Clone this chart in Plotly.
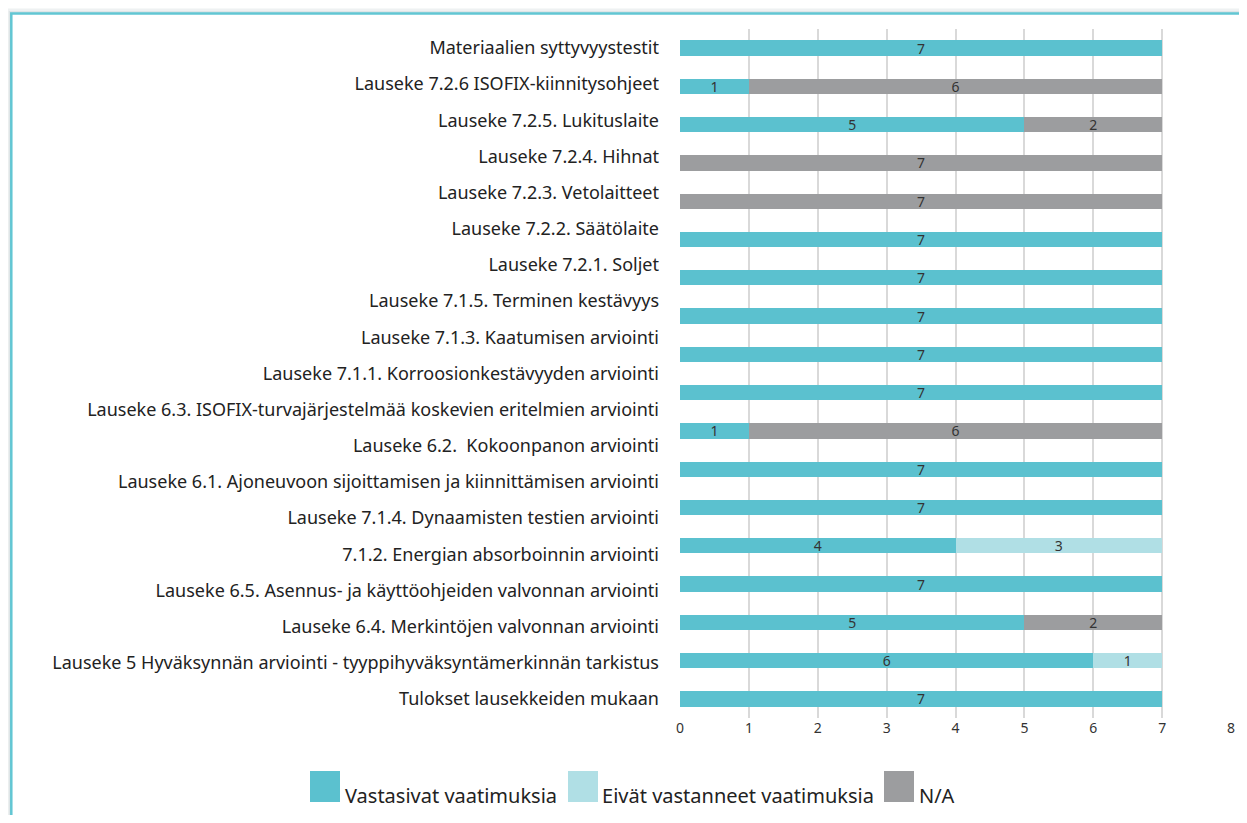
import plotly.graph_objects as go

# Axis labels (top to bottom), as printed on the left
labels = [
    "Materiaalien syttyvyystestit",
    "Lauseke 7.2.6 ISOFIX-kiinnitysohjeet",
    "Lauseke 7.2.5. Lukituslaite",
    "Lauseke 7.2.4. Hihnat",
    "Lauseke 7.2.3. Vetolaitteet",
    "Lauseke 7.2.2. Säätölaite",
    "Lauseke 7.2.1. Soljet",
    "Lauseke 7.1.5. Terminen kestävyys",
    "Lauseke 7.1.3. Kaatumisen arviointi",
    "Lauseke 7.1.1. Korroosionkestävyyden arviointi",
    "Lauseke 6.3. ISOFIX-turvajärjestelmää koskevien eritelmien arviointi",
    "Lauseke 6.2.  Kokoonpanon arviointi",
    "Lauseke 6.1. Ajoneuvoon sijoittamisen ja kiinnittämisen arviointi",
    "Lauseke 7.1.4. Dynaamisten testien arviointi",
    "7.1.2. Energian absorboinnin arviointi",
    "Lauseke 6.5. Asennus- ja käyttöohjeiden valvonnan arviointi",
    "Lauseke 6.4. Merkintöjen valvonnan arviointi",
    "Lauseke 5 Hyväksynnän arviointi - tyyppihyväksyntämerkinnän tarkistus",
    "Tulokset lausekkeiden mukaan",
]

# Bars (top to bottom) - the source chart has 18 bars
bar_categories = [
    "Materiaalien syttyvyystestit",
    "Lauseke 7.2.6 ISOFIX-kiinnitysohjeet",
    "Lauseke 7.2.5. Lukituslaite",
    "Lauseke 7.2.4. Hihnat",
    "Lauseke 7.2.3. Vetolaitteet",
    "Lauseke 7.2.2. Säätölaite",
    "Lauseke 7.2.1. Soljet",
    "Lauseke 7.1.5. Terminen kestävyys",
    "Lauseke 7.1.3. Kaatumisen arviointi",
    "Lauseke 7.1.1. Korroosionkestävyyden arviointi",
    "Lauseke 6.3. ISOFIX-turvajärjestelmää koskevien eritelmien arviointi",
    "Lauseke 6.2.  Kokoonpanon arviointi",
    "Lauseke 6.1. Ajoneuvoon sijoittamisen ja kiinnittämisen arviointi",
    "7.1.2. Energian absorboinnin arviointi",
    "Lauseke 6.5. Asennus- ja käyttöohjeiden valvonnan arviointi",
    "Lauseke 6.4. Merkintöjen valvonnan arviointi",
    "Lauseke 5 Hyväksynnän arviointi - tyyppihyväksyntämerkinnän tarkistus",
    "Tulokset lausekkeiden mukaan",
]
vastasivat = [7, 1, 5, 0, 0, 7, 7, 7, 7, 7, 1, 7, 7, 4, 7, 5, 6, 7]
eivat      = [0, 0, 0, 0, 0, 0, 0, 0, 0, 0, 0, 0, 0, 3, 0, 0, 1, 0]
na         = [0, 6, 2, 7, 7, 0, 0, 0, 0, 0, 6, 0, 0, 0, 0, 2, 0, 0]

series_names = ["Vastasivat vaatimuksia", "Eivät vastanneet vaatimuksia", "N/A"]
colors = ["#5bc1cf", "#b0dfe5", "#9c9d9f"]
x_ticks = [0, 1, 2, 3, 4, 5, 6, 7, 8]

FONT = "Noto Sans"
OFF = 8  # page body margin
W, H = 1247 - 2 * OFF, 823 - 2 * OFF
ML = 680 - OFF
MT = 29 - OFF
PLOT_R = 1231 - OFF
PLOT_B = 718 - OFF
MR = W - PLOT_R
MB = H - PLOT_B
PW, PH = W - ML - MR, H - MT - MB

fig = go.Figure()
for name, vals, col in zip(series_names, [vastasivat, eivat, na], colors):
    fig.add_trace(go.Bar(
        y=bar_categories, x=vals, orientation="h", name=name,
        marker=dict(color=col, line=dict(width=0)),
        text=[str(v) if v else "" for v in vals],
        textposition="inside", insidetextanchor="middle", textangle=0,
        constraintext="none",
        textfont=dict(family=FONT, size=14, color="#333333"),
        yaxis="y", showlegend=True,
    ))

# invisible trace to drive label axis
n = len(labels)
fig.add_trace(go.Scatter(x=[None] * n, y=list(range(n)), yaxis="y2",
                         mode="markers", showlegend=False, hoverinfo="skip"))

def px_x(p):
    return (p - OFF - ML) / PW

def px_y(p):
    return (MT + PH - (p - OFF)) / PH

fig.update_layout(
    width=W, height=H,
    margin=dict(l=ML, r=MR, t=MT, b=MB, autoexpand=False),
    barmode="stack", bargap=0.6,
    plot_bgcolor="white", paper_bgcolor="white",
    font=dict(family=FONT, color="#222222"),
    xaxis=dict(range=[0, 8], tickvals=x_ticks, showgrid=True, gridcolor="#d9d9d9",
               gridwidth=1.5, zeroline=False, showline=False,
               tickfont=dict(family=FONT, size=14, color="#333333"), ticks=""),
    yaxis=dict(type="category", categoryarray=bar_categories, autorange=False,
               range=[len(bar_categories) - 0.5, -0.5], showticklabels=False,
               showgrid=False, zeroline=False, showline=False, ticks=""),
    yaxis2=dict(overlaying="y", side="left", range=[n - 1 + 0.525, -0.525],
                tickvals=list(range(n)), ticktext=labels, showgrid=False,
                zeroline=False, showline=False, ticks="", ticklabelstandoff=20,
                tickfont=dict(family=FONT, size=18, color="#222222")),
    legend=dict(orientation="h", x=px_x(305), xanchor="left",
                y=px_y(795), yanchor="middle",
                font=dict(family=FONT, size=20, color="#222222"),
                traceorder="normal", bgcolor="rgba(0,0,0,0)"),
)

# enlarged legend swatches (same colours, behind the legend's own symbols)
legend_square_left = [310, 568, 884]
for sx, col in zip(legend_square_left, colors):
    fig.add_shape(type="rect", xref="paper", yref="paper",
                  x0=px_x(sx), x1=px_x(sx + 30), y0=px_y(802), y1=px_y(771),
                  fillcolor=col, line=dict(width=0), layer="above")

# container border with soft shadow
for off, col, w in [(3, "#eef1f2", 4), (1.5, "#dfe5e7", 2)]:
    fig.add_shape(type="rect", xref="paper", yref="paper",
                  x0=px_x(11.3 - off), x1=px_x(1300), y0=px_y(880), y1=px_y(13.5 - off),
                  line=dict(color=col, width=w), fillcolor="rgba(0,0,0,0)", layer="below")
fig.add_shape(type="rect", xref="paper", yref="paper",
              x0=px_x(11.3), x1=px_x(1300), y0=px_y(880), y1=px_y(13.5),
              line=dict(color="#62c6d3", width=2.5), fillcolor="rgba(0,0,0,0)", layer="below")

fig.write_html("out.html")
